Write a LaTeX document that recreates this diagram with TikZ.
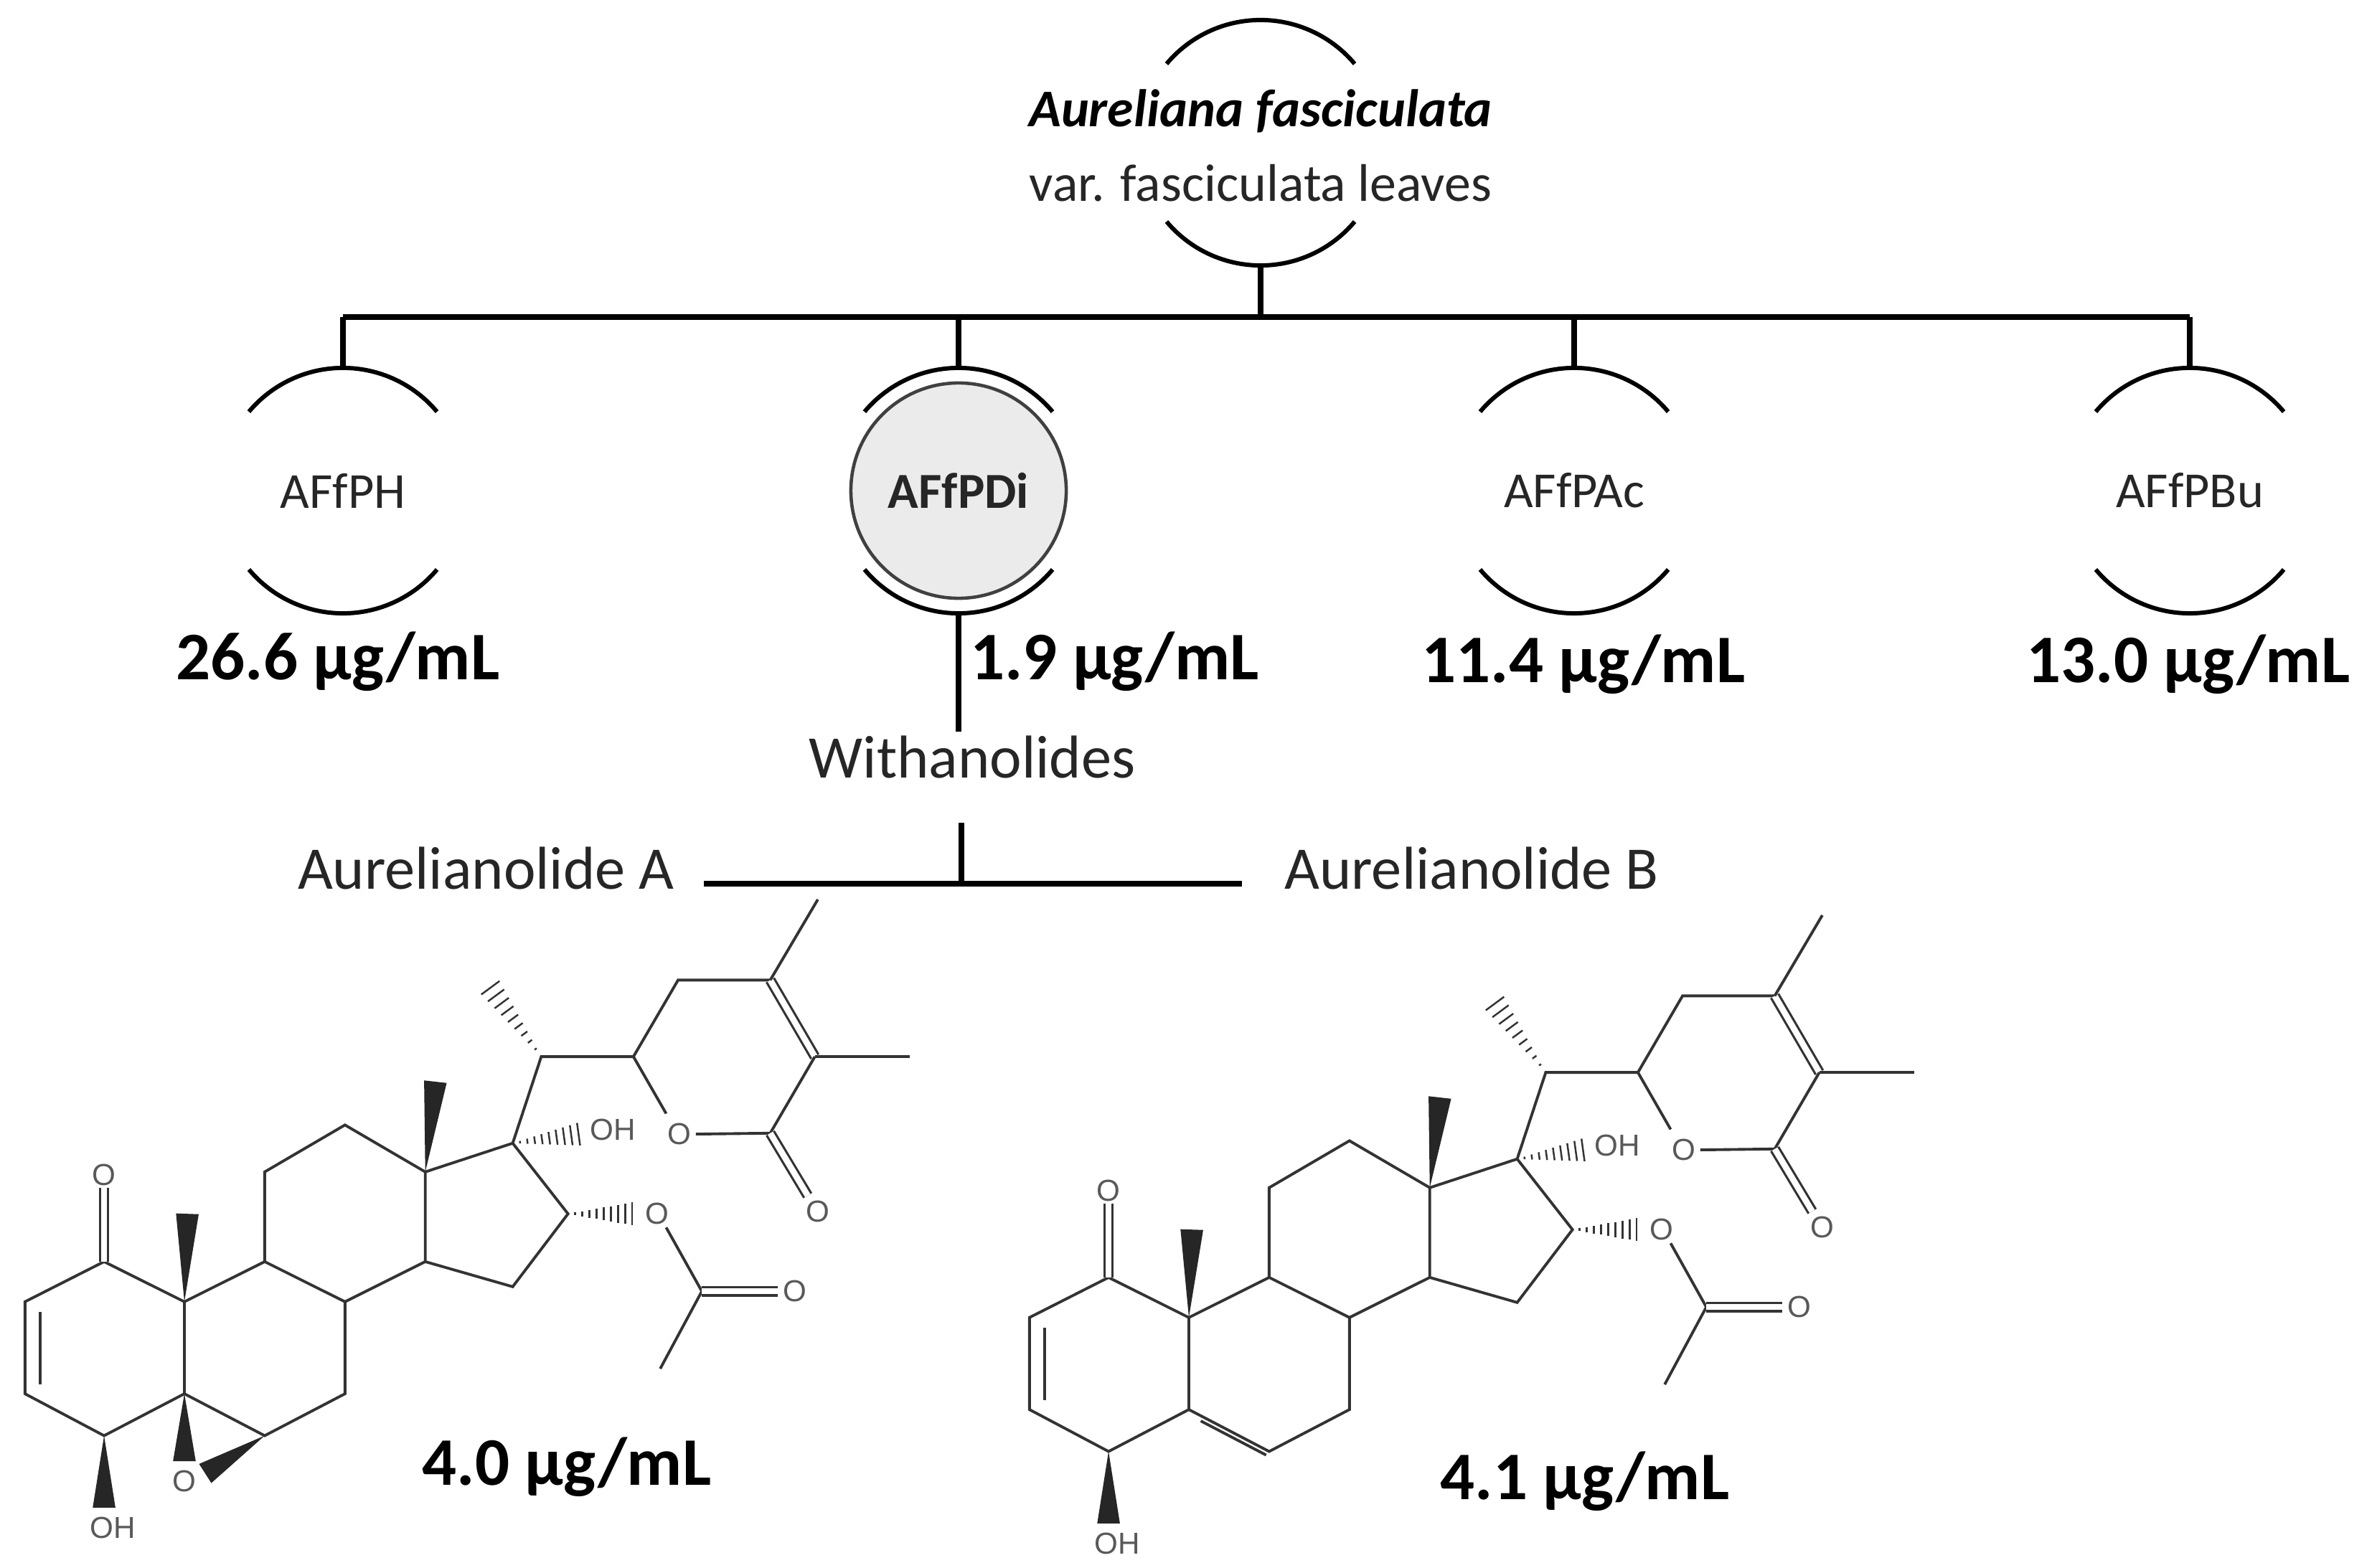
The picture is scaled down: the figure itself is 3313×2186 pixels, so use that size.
\documentclass[tikz,border=0pt]{standalone}
\usepackage{fontspec}
\setmainfont{Carlito}
\newfontfamily\chemf{Liberation Sans}
\usetikzlibrary{calc}
\tikzset{
  bus/.style={line width=2.1pt,black},
  arcl/.style={line width=1.7pt,black},
  bnd/.style={line width=1.1pt,draw=black!80},
  dbl/.style={line width=0.9pt,draw=black!80,double,double distance=2.4pt},
  chem/.style={font=\chemf\fontsize{12}{12}\selectfont,text=black!65,inner sep=1pt},
  lbl/.style={font=\fontsize{20}{22}\selectfont,text=black!85},
  val/.style={font=\bfseries\fontsize{27}{30}\selectfont},
}
\newcommand\brk[1]{%
  \draw[arcl] ([shift={(40:1.71cm)}]#1) arc[start angle=40,end angle=140,radius=1.71cm];
  \draw[arcl] ([shift={(220:1.71cm)}]#1) arc[start angle=220,end angle=320,radius=1.71cm];}
\newcommand\wdg[2]{\fill[black!85] (#1) -- ($(#2)!4.5pt!90:(#1)$) -- ($(#2)!4.5pt!-90:(#1)$) -- cycle;}
\newcommand\hsh[2]{\foreach \t in {0.1,0.2,...,0.95}{%
  \coordinate (hm) at ($(#1)!\t!(#2)$);
  \draw[bnd,line width=0.7pt] ($(hm)!{\t*5pt}!90:(#2)$) -- ($(hm)!{\t*5pt}!-90:(#2)$);}}
\newcommand\molec[2]{%
\begin{scope}[shift={#1},x=0.00829cm,y=-0.00635cm]
  \coordinate (c1) at (175,880); \coordinate (c2) at (42,968); \coordinate (c3) at (42,1170);
  \coordinate (c4) at (175,1262); \coordinate (c5) at (310,1170); \coordinate (c10) at (310,968);
  \coordinate (c9) at (445,880); \coordinate (c8) at (580,968); \coordinate (c7) at (580,1170);
  \coordinate (c6) at (445,1262); \coordinate (c11) at (445,683); \coordinate (c12) at (580,580);
  \coordinate (c13) at (715,683); \coordinate (c14) at (715,880); \coordinate (c17) at (862,620);
  \coordinate (c16) at (955,775); \coordinate (c15) at (862,935); \coordinate (c20) at (910,430);
  \coordinate (c21) at (815,262); \coordinate (c22) at (1065,430); \coordinate (c23) at (1140,262);
  \coordinate (c24) at (1295,262); \coordinate (c25) at (1370,430); \coordinate (c26) at (1295,598);
  \coordinate (m24) at (1375,85); \coordinate (m25) at (1530,430);
  \coordinate (cac) at (1180,945); \coordinate (mac) at (1110,1115);
  \coordinate (m18) at (732,485); \coordinate (m19) at (315,775);
  \draw[bnd] (c1)--(c2)--(c3)--(c4)--(c5)--(c10)--(c1);
  \draw[bnd] (68,990)--(68,1150);
  \draw[bnd] (c10)--(c9)--(c8)--(c7)--(c6)--(c5);
  \draw[bnd] (c9)--(c11)--(c12)--(c13)--(c14)--(c8);
  \draw[bnd] (c13)--(c17)--(c16)--(c15)--(c14);
  \draw[bnd] (c17)--(c20)--(c22)--(c23)--(c24);
  \draw[dbl] (c24)--(c25);
  \draw[bnd] (c25)--(c26)--(1170,600); \draw[bnd] (1120,555)--(c22);
  \draw[bnd] (c24)--(m24); \draw[bnd] (c25)--(m25);
  \draw[dbl] (c26)--(1358,735);
  \draw[dbl] (c1)--(175,718);
  \draw[bnd] (1120,805)--(cac)--(mac); \draw[dbl] (cac)--(1308,945);
  \wdg{c13}{m18} \wdg{c10}{m19}
  \wdg{c4}{175,1420}
  \hsh{c17}{985,598} \hsh{c20}{c21} \hsh{c16}{1075,775}
  \node[chem] (o1) at (175,690) {O};
  \node[chem] (oh17) at (1030,590) {OH};
  \node[chem] (or) at (1142,600) {O};
  \node[chem] (o26) at (1375,770) {O};
  \node[chem] (o16) at (1105,775) {O};
  \node[chem] (oac) at (1337,945) {O};
  \node[chem] (oh4) at (190,1465) {OH};
  \ifnum#2=1
    \wdg{c5}{310,1318} \wdg{c6}{345,1345}
    \node[chem] (oep) at (310,1362) {O};
  \else
    \draw[bnd] (330,1195)--(440,1270);
  \fi
\end{scope}}
\begin{document}
\begin{tikzpicture}[x=0.01cm,y=-0.01cm]
\useasboundingbox (0,0) rectangle (3313,2186);
% top node
\coordinate (top) at (1757,199);
\brk{top}
\node[font=\bfseries\itshape\fontsize{21}{23}\selectfont] (t1) at (1757,155) {Aureliana fasciculata};
\node[lbl,font=\fontsize{21}{23}\selectfont] (t2) at (1757,255) {var. fasciculata leaves};
\coordinate (topb) at (1757,370);
\coordinate (bj) at (1757,442);
\coordinate (bl) at (478,442); \coordinate (br) at (3052,442);
\draw[bus] (topb)--(bj);
\draw[bus] (bl)--(br);
% children
\coordinate (n1) at (478,684); \coordinate (n2) at (1336,684);
\coordinate (n3) at (2194,684); \coordinate (n4) at (3052,684);
\foreach \n in {n1,n2,n3,n4}{\brk{\n} \draw[bus] (\n |- bj) -- ($(\n)+(0,-171)$);}
\node[lbl] (ph) at (n1) {AFfPH};
\node[circle,draw=black!75,line width=1.3pt,fill=black!8,minimum size=3.0cm,inner sep=0pt,
  font=\bfseries\fontsize{20}{22}\selectfont,text=black!85] (di) at (n2) {AFfPDi};
\node[lbl] (pac) at (n3) {AFfPAc};
\node[lbl] (pbu) at (n4) {AFfPBu};
\node[val] (v1) at (471,922) {26.6 µg/mL};
\node[val,anchor=west] (v2) at (1340,922) {1.9 µg/mL};
\node[val] (v3) at (2207,926) {11.4 µg/mL};
\node[val] (v4) at (3050,926) {13.0 µg/mL};
% withanolides
\coordinate (wd) at (1336,1020);
\draw[bus] ($(n2)+(0,171)$) -- (wd);
\node[lbl,font=\fontsize{24}{26}\selectfont] (wi) at (1355,1056) {Withanolides};
\coordinate (wj) at (1340,1147); \coordinate (wb) at (1340,1232);
\draw[bus] (wj)--(wb);
\coordinate (bl2) at (981,1232); \coordinate (br2) at (1731,1232);
\draw[bus] (bl2)--(br2);
\node[lbl,font=\fontsize{24}{26}\selectfont,anchor=east] (aa) at (952,1211) {Aurelianolide A};
\node[lbl,font=\fontsize{24}{26}\selectfont,anchor=west] (ab) at (1778,1211) {Aurelianolide B};
\molec{(0,1200)}{1}
\molec{(1400,1222)}{2}
\node[val] (v5) at (790,2045) {4.0 µg/mL};
\node[val] (v6) at (2209,2065) {4.1 µg/mL};
\end{tikzpicture}
\end{document}
